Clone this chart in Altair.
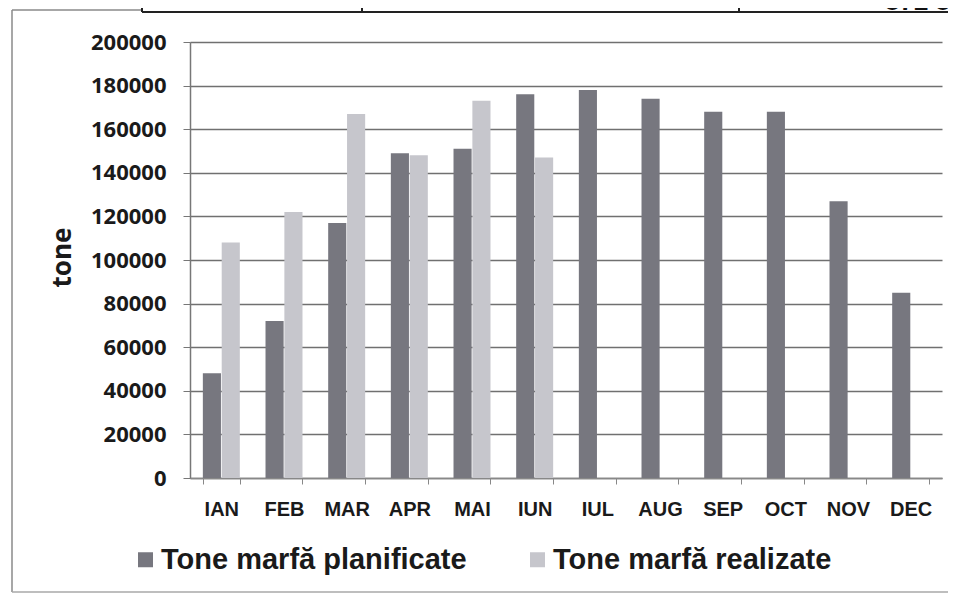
import altair as alt
import pandas as pd

months = ["IAN", "FEB", "MAR", "APR", "MAI", "IUN", "IUL", "AUG", "SEP", "OCT", "NOV", "DEC"]
planificate = [48000, 72000, 117000, 149000, 151000, 176000, 178000, 174000, 168000, 168000, 127000, 85000]
realizate = [108000, 122000, 167000, 148000, 173000, 147000, None, None, None, None, None, None]
series = ["Tone marfă planificate", "Tone marfă realizate"]
colors = ["#77777f", "#c6c6cc"]
y_ticks = list(range(0, 200001, 20000))
table_texts = ["TOTAL", "721 000", "872 8"]
y_title = "tone"

rows = []
for m, p, r in zip(months, planificate, realizate):
    rows.append({"luna": m, "serie": series[0], "tone": p})
    if r is not None:
        rows.append({"luna": m, "serie": series[1], "tone": r})
df = pd.DataFrame(rows)
one = pd.DataFrame({"a": [0]})

bars = alt.Chart(df).mark_bar().encode(
    x=alt.X("luna:N", sort=months,
            scale=alt.Scale(domain=months, paddingInner=0.41, paddingOuter=0.205),
            axis=alt.Axis(title=None, labelAngle=0, tickBand="extent", ticks=True, tickSize=6,
                          tickColor="#888888", domainColor="#888888", domainWidth=1.5,
                          labelFont="Liberation Sans", labelFontWeight="bold", labelFontSize=20,
                          labelColor="#1a1a1a", labelBaseline="middle", labelPadding=25, grid=False)),
    xOffset=alt.XOffset("serie:N", sort=series, scale=alt.Scale(domain=series, paddingInner=0.04)),
    y=alt.Y("tone:Q",
            scale=alt.Scale(domain=[0, 200000], nice=False, zero=True),
            axis=alt.Axis(title=y_title, values=y_ticks, format="d", tickSize=7, tickColor="#777777",
                          domainColor="#777777", domainWidth=1.5, grid=True, gridColor="#707070",
                          gridWidth=1.5, labelFont="Open Sans", labelFontWeight="bold",
                          labelFontSize=22, labelColor="#1a1a1a", labelPadding=17,
                          titleFont="Open Sans", titleFontWeight="bold", titleFontSize=26,
                          titleColor="#1a1a1a", titleAngle=270, titleX=-128, titleY=215,
                          titleAlign="center", titleBaseline="middle")),
    color=alt.Color("serie:N", sort=series, scale=alt.Scale(domain=series, range=colors),
                    legend=alt.Legend(title=None, orient="none", direction="horizontal",
                                      legendX=-59, legendY=503, padding=0, symbolType="square",
                                      symbolSize=225, symbolStrokeWidth=0, labelOffset=1,
                                      columnPadding=56, labelFont="Liberation Sans",
                                      labelFontWeight="bold", labelFontSize=29,
                                      labelColor="#1a1a1a", labelLimit=0)),
)

frame_color = "#8a8a8a"
frame_left = alt.Chart(one).mark_rule(color=frame_color, strokeWidth=1.5).encode(
    x=alt.value(-178), y=alt.value(-32), y2=alt.value(550))
frame_top = alt.Chart(one).mark_rule(color=frame_color, strokeWidth=1.5).encode(
    x=alt.value(-178), x2=alt.value(-48), y=alt.value(-32))
frame_bottom = alt.Chart(one).mark_rule(color="#a8a8a8", strokeWidth=1.5).encode(
    x=alt.value(-178), x2=alt.value(758), y=alt.value(550))

table_line = alt.Chart(one).mark_rule(color="#222222", strokeWidth=2).encode(
    x=alt.value(-48), x2=alt.value(760), y=alt.value(-30))
div1 = alt.Chart(one).mark_rule(color="#222222", strokeWidth=2).encode(
    x=alt.value(-48), y=alt.value(-40), y2=alt.value(-30))
div2 = alt.Chart(one).mark_rule(color="#222222", strokeWidth=2).encode(
    x=alt.value(172), y=alt.value(-40), y2=alt.value(-30))
div3 = alt.Chart(one).mark_rule(color="#222222", strokeWidth=2).encode(
    x=alt.value(549), y=alt.value(-40), y2=alt.value(-30))

t1 = alt.Chart(one).mark_text(font="Liberation Sans", fontWeight="bold", fontSize=26,
                              color="#111111", baseline="alphabetic", align="center").encode(
    text=alt.value(table_texts[0]), x=alt.value(68), y=alt.value(-37))
t2 = alt.Chart(one).mark_text(font="Liberation Sans", fontWeight="bold", fontSize=26,
                              color="#111111", baseline="alphabetic", align="center").encode(
    text=alt.value(table_texts[1]), x=alt.value(361), y=alt.value(-34))
t3 = alt.Chart(one).mark_text(font="Liberation Sans", fontWeight="bold", fontSize=26,
                              color="#111111", baseline="alphabetic", align="left").encode(
    text=alt.value(table_texts[2]), x=alt.value(695), y=alt.value(-32))

chart = alt.layer(
    bars, frame_left, frame_top, frame_bottom, table_line, div1, div2, div3, t1, t2, t3
).properties(
    width=752, height=436,
    padding={"left": 182, "top": 34, "right": 6, "bottom": 116},
    autosize=alt.AutoSizeParams(type="none"),
).configure_view(strokeWidth=0)

chart.save("out.html", embed_options={"renderer": "svg", "actions": False})
